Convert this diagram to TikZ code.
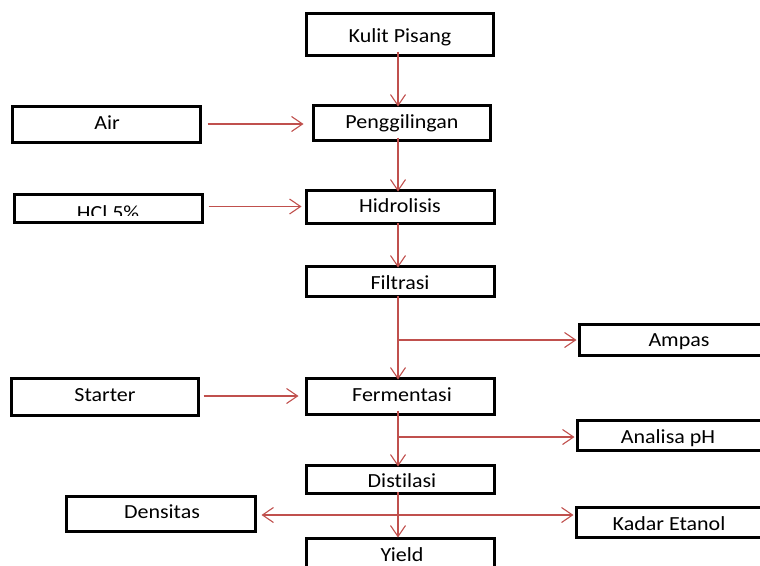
\documentclass[tikz,border=0pt]{standalone}
\usepackage{fontspec}
\usepackage{graphicx}
\setmainfont[Ligatures=NoCommon]{Carlito}
\usetikzlibrary{arrows.meta}
\definecolor{arrred}{HTML}{C0504D}
\newcommand\sxt[1]{\scalebox{1.1}[1]{#1}}
\begin{document}
\begin{tikzpicture}[x=1pt,y=-1pt,
  box/.style={draw=black,line width=3pt,fill=white,inner sep=0pt},
  txt/.style={anchor=base,inner sep=0pt,font=\fontsize{20}{24}\selectfont},
  arr/.style={draw=arrred,line width=1.1pt,-{Straight Barb[length=11pt,width=15pt,line width=1.1pt]}},
  darr/.style={draw=arrred,line width=1.1pt,{Straight Barb[length=11pt,width=15pt,line width=1.1pt]}-{Straight Barb[length=11pt,width=15pt,line width=1.1pt]}}]
\useasboundingbox (0,0) rectangle (760,565);
% boxes
\node[box,minimum width=187pt,minimum height=42pt] (kulit) at (399.5,34) {};
\node[box,minimum width=177pt,minimum height=35pt] (peng) at (401.5,122.5) {};
\node[box,minimum width=188pt,minimum height=36pt] (air) at (106,124) {};
\node[box,minimum width=188pt,minimum height=33pt] (hidro) at (400,206.5) {};
\node[box,minimum width=188pt,minimum height=28pt] (hcl) at (108,208) {};
\node[box,minimum width=188pt,minimum height=30pt] (filt) at (400,281) {};
\node[box,minimum width=188pt,minimum height=31pt] (ampas) at (673,339.5) {};
\node[box,minimum width=188pt,minimum height=36pt] (ferm) at (400,396) {};
\node[box,minimum width=187pt,minimum height=37pt] (starter) at (104.5,396.5) {};
\node[box,minimum width=188pt,minimum height=30pt] (analisa) at (671,435) {};
\node[box,minimum width=188pt,minimum height=28pt] (dist) at (400,479) {};
\node[box,minimum width=189pt,minimum height=35pt] (dens) at (160.5,513.5) {};
\node[box,minimum width=188pt,minimum height=30pt] (kadar) at (670,522) {};
\node[box,minimum width=188pt,minimum height=34pt] (yield) at (400,555) {};
% texts
\node[txt] (tkulit) at (400,42) {\sxt{Kulit Pisang}};
\node[txt] (tpeng) at (402,128.5) {\sxt{Penggilingan}};
\node[txt] (tair) at (107,129.5) {\sxt{Air}};
\node[txt] (thidro) at (400,212.5) {\sxt{Hidrolisis}};
\begin{scope}
\clip (hcl.north west) rectangle ([xshift=-2pt]hcl.east |- 0,215.5);
\node[txt] (thcl) at (108,219) {\sxt{HCl 5\%}};
\end{scope}
\node[txt] (tfilt) at (400,289) {\sxt{Filtrasi}};
\node[txt] (tampas) at (679,346) {\sxt{Ampas}};
\node[txt] (tferm) at (402,401) {\sxt{Fermentasi}};
\node[txt] (tstarter) at (105,401) {\sxt{Starter}};
\node[txt] (tanalisa) at (668,443) {\sxt{Analisa pH}};
\node[txt] (tdist) at (402,487) {\sxt{Distilasi}};
\node[txt] (tdens) at (162,518) {\sxt{Densitas}};
\node[txt] (tkadar) at (669,530) {\sxt{Kadar Etanol}};
\node[txt] (tyield) at (402,561) {\sxt{Yield}};
% connectors
\coordinate (cx) at (398,0);
\draw[arr] ([yshift=5pt]kulit.south -| cx) -- ([yshift=-3pt]peng.north -| cx);
\draw[arr] ([yshift=4pt]peng.south -| cx) -- ([yshift=-3pt]hidro.north -| cx);
\draw[arr] ([yshift=2pt]hidro.south -| cx) -- ([yshift=-3pt]filt.north -| cx);
\draw[arr] ([yshift=2pt]filt.south -| cx) -- ([yshift=-3pt]ferm.north -| cx);
\coordinate (ampin) at (ampas.west |- 0,340);
\draw[arr] (cx |- ampin) -- ([xshift=-1pt]ampin);
\draw[arr] ([xshift=6pt]air.east) -- ([xshift=-8pt]peng.west |- air.east);
\draw[arr] ([xshift=5pt]hcl.east |- hidro.west) -- ([xshift=-3pt]hidro.west);
\draw[arr] ([xshift=4pt]starter.east |- ferm.west) -- ([xshift=-6pt]ferm.west);
\draw[arr] ([yshift=5pt]ferm.south -| cx) -- ([yshift=-3pt]dist.north -| cx);
\coordinate (ana) at (analisa.west |- 0,437);
\draw[arr] (cx |- ana) -- ([xshift=-1pt]ana);
\draw[arr] ([yshift=3pt]dist.south -| cx) -- ([yshift=-1pt]yield.north -| cx);
\coordinate (den) at (dens.east |- 0,515);
\coordinate (kad) at (kadar.west |- 0,515);
\draw[darr] ([xshift=5pt]den) -- ([xshift=-1pt]kad);
\end{tikzpicture}
\end{document}
